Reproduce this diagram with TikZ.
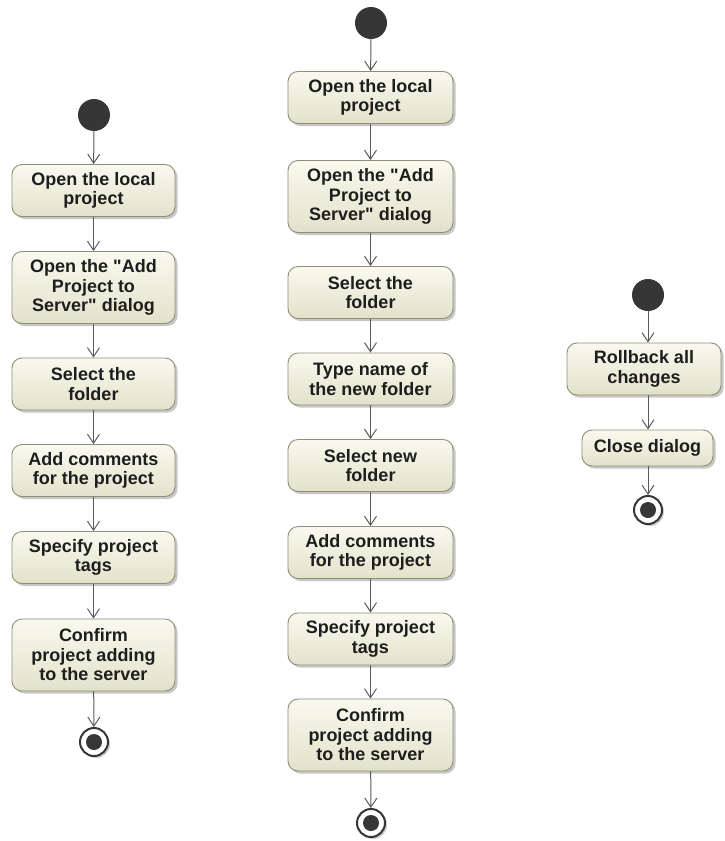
\documentclass[tikz,border=0pt]{standalone}
\usepackage{fontspec}
\setmainfont{Liberation Sans}
\usetikzlibrary{arrows.meta,shadows}

\definecolor{acttop}{HTML}{F9F9EF}
\definecolor{actbottom}{HTML}{E2E2CB}
\definecolor{actline}{HTML}{8F8F78}
\definecolor{flow}{HTML}{5A5A5A}
\definecolor{dot}{HTML}{363636}
\definecolor{label}{HTML}{1E1E1E}
\newcommand{\dq}{\textquotedbl}

\begin{document}
\begin{tikzpicture}[x=1pt,y=-1pt,
  action/.style={rectangle, rounded corners=10pt, draw=actline, line width=0.9pt,
    top color=acttop, bottom color=actbottom, inner sep=0pt,
    align=center, text=label, font=\bfseries\fontsize{18}{19.5}\selectfont,
    drop shadow={shadow xshift=2.5pt, shadow yshift=-2.5pt, fill=black, opacity=0.22}},
  twoline/.style={action, minimum height=52pt},
  threeline/.style={action, minimum height=72pt},
  leftcol/.style={minimum width=163pt},
  midcol/.style={minimum width=165pt},
  initial/.style={circle, fill=dot, minimum size=32pt, inner sep=0pt},
  final/.style={circle, draw=dot, line width=2pt, fill=white, minimum size=28pt, inner sep=0pt,
    drop shadow={shadow xshift=2pt, shadow yshift=-2pt, fill=black, opacity=0.2},
    path picture={\fill[dot] (path picture bounding box.center) circle (8pt);}},
  flowarrow/.style={draw=flow, line width=1pt, -{Straight Barb[length=9pt,width=12pt]}}
]
\useasboundingbox (0,0) rectangle (725,841);

% left activity
\node[initial] (l0) at (94,115) {};
\node[twoline, leftcol] (l1) at (93.5,190.5) {Open the local\\project};
\node[threeline, leftcol] (l2) at (93.5,287.5) {Open the \dq Add\\Project to\\Server\dq{} dialog};
\node[twoline, leftcol] (l3) at (93.5,384) {Select the\\folder};
\node[twoline, leftcol] (l4) at (93.5,470.5) {Add comments\\for the project};
\node[twoline, leftcol] (l5) at (93.5,557.5) {Specify project\\tags};
\node[threeline, leftcol] (l6) at (93.5,655) {Confirm\\project adding\\to the server};
\node[final] (lf) at (94,742) {};

\draw[flowarrow] (l0) -- (l1);
\draw[flowarrow] (l1) -- (l2);
\draw[flowarrow] (l2) -- (l3);
\draw[flowarrow] (l3) -- (l4);
\draw[flowarrow] (l4) -- (l5);
\draw[flowarrow] (l5) -- (l6);
\draw[flowarrow] (l6) -- (lf);

% middle activity
\node[initial] (m0) at (371,23) {};
\node[twoline, midcol] (m1) at (370.5,97.5) {Open the local\\project};
\node[threeline, midcol] (m2) at (370.5,196.5) {Open the \dq Add\\Project to\\Server\dq{} dialog};
\node[twoline, midcol] (m3) at (370.5,292.5) {Select the\\folder};
\node[twoline, midcol] (m4) at (370.5,379) {Type name of\\the new folder};
\node[twoline, midcol] (m5) at (370.5,465.5) {Select new\\folder};
\node[twoline, midcol] (m6) at (370.5,552.5) {Add comments\\for the project};
\node[twoline, midcol] (m7) at (370.5,639) {Specify project\\tags};
\node[threeline, midcol] (m8) at (370.5,735) {Confirm\\project adding\\to the server};
\node[final] (mf) at (371,823) {};

\draw[flowarrow] (m0) -- (m1);
\draw[flowarrow] (m1) -- (m2);
\draw[flowarrow] (m2) -- (m3);
\draw[flowarrow] (m3) -- (m4);
\draw[flowarrow] (m4) -- (m5);
\draw[flowarrow] (m5) -- (m6);
\draw[flowarrow] (m6) -- (m7);
\draw[flowarrow] (m7) -- (m8);
\draw[flowarrow] (m8) -- (mf);

% right activity
\node[initial] (r0) at (648,295) {};
\node[twoline, minimum width=154pt] (r1) at (644,369) {Rollback all\\changes};
\node[action, minimum width=131pt, minimum height=36pt] (r2) at (647.5,448) {Close dialog};
\node[final] (rf) at (648,510) {};

\draw[flowarrow] (r0) -- (r0 |- r1.north);
\draw[flowarrow] (r0 |- r1.south) -- (r0 |- r2.north);
\draw[flowarrow] (r0 |- r2.south) -- (rf);
\end{tikzpicture}
\end{document}
